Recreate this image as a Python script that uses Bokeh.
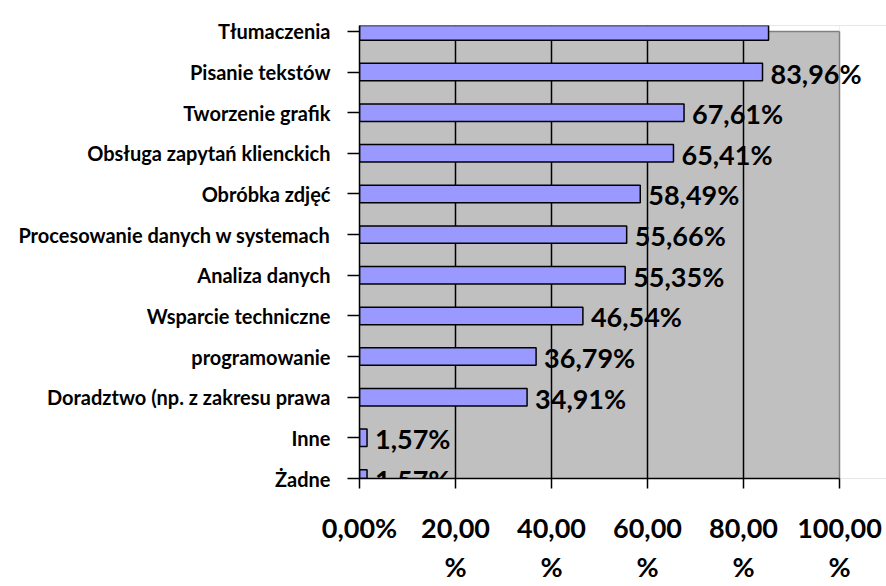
from bokeh.plotting import figure
from bokeh.models import ColumnDataSource, FixedTicker, Range1d, LabelSet
from bokeh.core.properties import value
from bokeh.embed import file_html
from bokeh.resources import INLINE

# Survey answers, listed top to bottom
categories = [
    "Tłumaczenia",
    "Pisanie tekstów",
    "Tworzenie grafik",
    "Obsługa zapytań klienckich",
    "Obróbka zdjęć",
    "Procesowanie danych w systemach",
    "Analiza danych",
    "Wsparcie techniczne",
    "programowanie",
    "Doradztwo (np. z zakresu prawa",
    "Inne",
    "Żadne",
]
shares = [85.22, 83.96, 67.61, 65.41, 58.49, 55.66, 55.35, 46.54, 36.79, 34.91, 1.57, 1.57]
# the top bar's value label falls outside the plot area, so it is not shown
show_label = [False] + [True] * 11

x_ticks = [0, 20, 40, 60, 80, 100]
x_tick_labels = ["0,00%", "20,00\n%", "40,00\n%", "60,00\n%", "80,00\n%", "100,00\n%"]
grid_values = [20, 40, 60, 80]

n = len(categories)
positions = [n - 1 - i for i in range(n)]
labels = [(f"{v:.2f}".replace(".", ",") + "%") if s else "" for v, s in zip(shares, show_label)]

source = ColumnDataSource(dict(pos=positions, share=shares, cat=categories, label=labels))

FONT = "Lato"
x_max = max(x_ticks)
x_end = x_max + 9.79          # room to the right for labels past 100%
y_bottom, y_last = min(positions), max(positions)
y_top = y_last + 0.145

p = figure(
    width=886, height=586,
    x_range=Range1d(0, x_end), y_range=Range1d(y_bottom, y_top),
    output_backend="svg", toolbar_location=None,
    min_border_left=359, min_border_right=0, min_border_top=25, min_border_bottom=100,
    background_fill_color="#C0C0C0", border_fill_color="white",
    outline_line_color=None,
)

# white margins around the grey plot area: right of 100% and above the last category
p.quad(left=x_max, right=x_end, bottom=y_bottom, top=y_top, fill_color="white", line_color=None)
p.quad(left=0, right=x_max, bottom=y_last, top=y_top, fill_color="white", line_color=None)

# grey frame on the top and right sides of the plot area
p.segment(x0=0, y0=y_last, x1=x_max, y1=y_last, line_color="#808080", line_width=1.5)
p.segment(x0=x_max, y0=y_bottom, x1=x_max, y1=y_last, line_color="#808080", line_width=1.5)

p.hbar(y="pos", left=0, right="share", height=0.43, source=source,
       fill_color="#9999FF", line_color="black", line_width=1.5)

value_labels = LabelSet(
    x="share", y="pos", text="label", source=source,
    x_offset=8, y_offset=-1,
    text_font=value(FONT), text_font_style="bold", text_font_size="27px",
    text_color="black", text_baseline="middle", text_align="left",
)
p.add_layout(value_labels)

# vertical grid lines
p.xgrid.ticker = FixedTicker(ticks=grid_values)
p.xgrid.grid_line_color = "black"
p.xgrid.grid_line_width = 1.5
p.ygrid.grid_line_color = None

# value axis
p.xaxis.bounds = (0, x_max)
p.xaxis.ticker = FixedTicker(ticks=x_ticks)
p.xaxis.major_label_overrides = dict(zip(x_ticks, x_tick_labels))
p.xaxis.major_tick_in = 0
p.xaxis.major_tick_out = 10
p.xaxis.minor_tick_line_color = None
p.xaxis.axis_line_width = 1.5
p.xaxis.major_tick_line_width = 1.5
p.xaxis.major_label_text_font = FONT
p.xaxis.major_label_text_font_style = "bold"
p.xaxis.major_label_text_font_size = "27px"
p.xaxis.major_label_text_color = "black"
p.xaxis.major_label_standoff = 22

# category axis
p.yaxis.ticker = FixedTicker(ticks=positions)
p.yaxis.major_label_overrides = dict(zip(positions, categories))
p.yaxis.major_tick_in = 0
p.yaxis.major_tick_out = 12
p.yaxis.minor_tick_line_color = None
p.yaxis.axis_line_width = 1.5
p.yaxis.major_tick_line_width = 1.5
p.yaxis.major_label_text_font = FONT
p.yaxis.major_label_text_font_style = "bold"
p.yaxis.major_label_text_font_size = "20px"
p.yaxis.major_label_text_color = "black"
p.yaxis.major_label_text_baseline = "alphabetic"
p.yaxis.major_label_standoff = 17

open("out.html", "w").write(file_html(p, INLINE))
